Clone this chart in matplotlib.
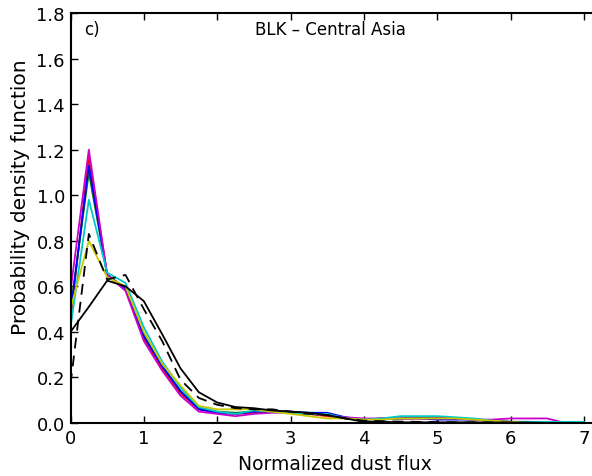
import numpy as np
import matplotlib
matplotlib.use("Agg")
import matplotlib.pyplot as plt

# bin centres of the normalized dust flux
flux_bins = np.arange(0, 7.01, 0.25)

# pdf values, one list per run
pdf_red = [0.45, 1.17, 0.65, 0.59, 0.37, 0.24, 0.13, 0.06, 0.045, 0.04, 0.045, 0.05, 0.045, 0.04, 0.03,
           0.02, 0.015, 0.02, 0.02, 0.02, 0.025, 0.02, 0.015, 0.01, 0.005, 0.003, 0.0, 0.0, 0.0]
pdf_green = [0.50, 1.10, 0.65, 0.59, 0.39, 0.25, 0.14, 0.065, 0.05, 0.045, 0.05, 0.05, 0.045, 0.04, 0.035,
             0.02, 0.015, 0.02, 0.02, 0.025, 0.02, 0.02, 0.015, 0.01, 0.005, 0.005, 0.0, 0.0, 0.0]
pdf_blue = [0.48, 1.13, 0.65, 0.59, 0.38, 0.25, 0.14, 0.06, 0.045, 0.04, 0.05, 0.05, 0.05, 0.045, 0.045,
            0.025, 0.015, 0.015, 0.02, 0.02, 0.015, 0.015, 0.015, 0.01, 0.005, 0.005, 0.003, 0.0, 0.0]
pdf_cyan = [0.42, 0.98, 0.66, 0.615, 0.42, 0.27, 0.155, 0.07, 0.05, 0.04, 0.055, 0.05, 0.045, 0.04, 0.04,
            0.02, 0.015, 0.02, 0.03, 0.03, 0.03, 0.025, 0.02, 0.01, 0.005, 0.005, 0.005, 0.005, 0.005]
pdf_magenta = [0.58, 1.20, 0.65, 0.58, 0.36, 0.23, 0.12, 0.05, 0.04, 0.03, 0.04, 0.045, 0.045, 0.04, 0.035,
               0.025, 0.02, 0.02, 0.02, 0.02, 0.02, 0.02, 0.015, 0.015, 0.02, 0.02, 0.02, 0.0, 0.0]
pdf_yellow = [0.50, 0.80, 0.64, 0.60, 0.40, 0.26, 0.165, 0.075, 0.06, 0.06, 0.06, 0.05, 0.04, 0.03, 0.02,
              0.02, 0.015, 0.015, 0.02, 0.02, 0.02, 0.02, 0.015, 0.01, 0.005, 0.0, 0.0, 0.0, 0.0]
pdf_obs = [0.40, 0.51, 0.625, 0.60, 0.535, 0.39, 0.24, 0.135, 0.09, 0.07, 0.065, 0.055, 0.05, 0.045, 0.035,
           0.02, 0.005, 0.005, 0.003, 0.003, 0.003, 0.003, 0.003, 0.002, 0.002, 0.002, 0.0, 0.0, 0.0]
pdf_obs_dash = [0.17, 0.83, 0.63, 0.65, 0.50, 0.36, 0.19, 0.11, 0.08, 0.065, 0.06, 0.06, 0.05, 0.04, 0.035,
                0.02, 0.01, 0.008, 0.006, 0.005, 0.004, 0.003, 0.003, 0.002, 0.002, 0.0, 0.0, 0.0, 0.0]

x_ticks = list(range(8))
y_ticks = [0.0, 0.2, 0.4, 0.6, 0.8, 1.0, 1.2, 1.4, 1.6, 1.8]

fig = plt.figure(figsize=(5.92, 4.77), dpi=100)
# axes run past the right edge of the figure, like the cropped original
ax = fig.add_axes([70.5 / 592, 53 / 477, 550 / 592, 410 / 477])

lw = 1.3
ax.plot(flux_bins, pdf_red, color="#ff0000", linewidth=lw)
ax.plot(flux_bins, pdf_green, color="#008000", linewidth=lw)
ax.plot(flux_bins, pdf_blue, color="#0000ff", linewidth=lw)
ax.plot(flux_bins, pdf_magenta, color="#cc00cc", linewidth=lw)
ax.plot(flux_bins, pdf_cyan, color="#00c8c8", linewidth=lw)
ax.plot(flux_bins, pdf_yellow, color="#c8c800", linewidth=lw)
ax.plot(flux_bins, pdf_obs, color="black", linewidth=lw)
ax.plot(flux_bins, pdf_obs_dash, color="black", linewidth=lw, linestyle=(0, (6, 4)))

ax.set_xlim(0, 7.5)
ax.set_ylim(0, 1.8)
ax.set_xticks(x_ticks)
ax.set_yticks(y_ticks)
ax.set_yticklabels([f"{v:.1f}" for v in y_ticks])

ax.tick_params(axis="both", direction="in", labelsize=13, length=5, width=1,
               top=True, right=False, pad=4)
for s in ax.spines.values():
    s.set_linewidth(1.5)

ax.set_xlabel("Normalized dust flux", fontsize=13.5)
ax.set_ylabel("Probability density function", fontsize=14.5)
# labels sit a bit off-centre in the original
ax.xaxis.set_label_coords(0.481, -0.075)
ax.yaxis.set_label_coords(-0.073, 0.553)

ax.text(0.025, 0.962, "c)", transform=ax.transAxes, fontsize=12, va="center", ha="left")
ax.text(0.472, 0.962, "BLK \u2013 Central Asia", transform=ax.transAxes,
        fontsize=12, va="center", ha="center")

fig.savefig("out.png", dpi=100)
